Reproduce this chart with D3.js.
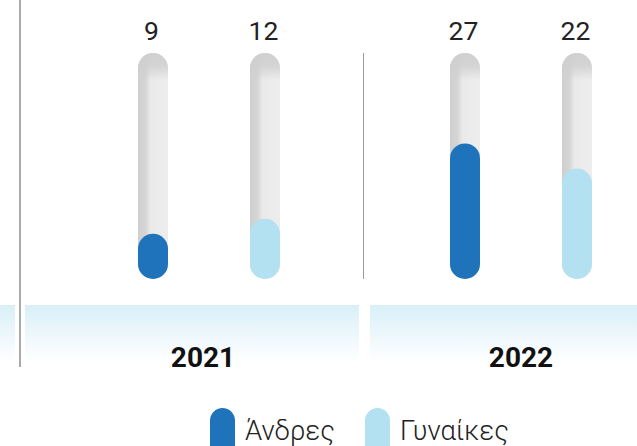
<!DOCTYPE html>
<html><head><meta charset="utf-8">
<script src="https://cdn.jsdelivr.net/npm/d3@7"></script>
<style>
html,body{margin:0;padding:0;background:#fff;}
svg{display:block;font-family:Roboto,"Noto Sans",sans-serif;}
</style></head>
<body><svg id="chart" width="637" height="446"></svg>
<script>
const years = ["2021", "2022"];
const genders = ["Άνδρες", "Γυναίκες"];
const men = [9, 27];
const women = [12, 22];
const maxValue = 45;
const colors = ["#1f73bb", "#b3e1f1"];

const svg = d3.select("#chart");
const W = 637, H = 446;
const defs = svg.append("defs");

// gradients
const tg = defs.append("linearGradient").attr("id","trackH").attr("x1","0").attr("x2","1").attr("y1","0").attr("y2","0");
tg.append("stop").attr("offset","0").attr("stop-color","#cfcfcf");
tg.append("stop").attr("offset","0.25").attr("stop-color","#d5d5d5");
tg.append("stop").attr("offset","0.42").attr("stop-color","#eaeaea");
tg.append("stop").attr("offset","1").attr("stop-color","#ededed");
const tv = defs.append("linearGradient").attr("id","trackV").attr("x1","0").attr("x2","0").attr("y1","0").attr("y2","1");
tv.append("stop").attr("offset","0").attr("stop-color","#cfcfcf").attr("stop-opacity",1);
tv.append("stop").attr("offset","0.06").attr("stop-color","#cfcfcf").attr("stop-opacity",0.8);
tv.append("stop").attr("offset","0.12").attr("stop-color","#cfcfcf").attr("stop-opacity",0);
const bg = defs.append("linearGradient").attr("id","band").attr("x1","0").attr("x2","0").attr("y1","0").attr("y2","1");
bg.append("stop").attr("offset","0").attr("stop-color","#d9eff8");
bg.append("stop").attr("offset","1").attr("stop-color","#ffffff");

const x0 = d3.scaleBand().domain(years).range([53, 677]);
const x1 = d3.scalePoint().domain(genders).range([100, 212]);
const y = d3.scaleLinear().domain([0, maxValue]).range([279, 53]);
const barW = 30;

const data = [];
years.forEach((yr, i) => {
  data.push({year: yr, gender: genders[0], value: men[i], color: colors[0]});
  data.push({year: yr, gender: genders[1], value: women[i], color: colors[1]});
});
const cx = d => x0(d.year) + x1(d.gender);

// bottom bands
const bandTop = 305, bandBottom = 362;
const bands = [[0, 15], [25, 359], [370, W]];
svg.selectAll("rect.band").data(bands).join("rect").attr("class","band")
  .attr("x", d => d[0]).attr("width", d => d[1]-d[0])
  .attr("y", bandTop).attr("height", bandBottom - bandTop)
  .attr("fill","url(#band)");

// left axis line
svg.append("line").attr("x1",20).attr("x2",20).attr("y1",0).attr("y2",367)
  .attr("stroke","#aaaaaa").attr("stroke-width",2);
// separator
svg.append("line").attr("x1",x0("2022")-1.5).attr("x2",x0("2022")-1.5)
  .attr("y1",y(maxValue)).attr("y2",y(0))
  .attr("stroke","#9a9a9a").attr("stroke-width",1);

// tracks
svg.selectAll("rect.track").data(data).join("rect").attr("class","track")
  .attr("x", d => cx(d) - barW/2).attr("width", barW)
  .attr("y", y(maxValue)).attr("height", y(0) - y(maxValue))
  .attr("rx", barW/2).attr("fill","url(#trackH)");
svg.selectAll("rect.trackTop").data(data).join("rect").attr("class","trackTop")
  .attr("x", d => cx(d) - barW/2).attr("width", barW)
  .attr("y", y(maxValue)).attr("height", y(0) - y(maxValue))
  .attr("rx", barW/2).attr("fill","url(#trackV)");

// bars
svg.selectAll("rect.bar").data(data).join("rect").attr("class","bar")
  .attr("x", d => cx(d) - barW/2).attr("width", barW)
  .attr("y", d => y(d.value)).attr("height", d => y(0) - y(d.value))
  .attr("rx", barW/2).attr("fill", d => d.color);

// value labels
svg.selectAll("text.val").data(data).join("text").attr("class","val")
  .attr("x", d => cx(d) - 1.5).attr("y", 39.5)
  .attr("text-anchor","middle").attr("font-size",26.5).attr("font-weight",400)
  .attr("fill","#222").text(d => d.value);

// year labels
svg.selectAll("text.yr").data(years).join("text").attr("class","yr")
  .attr("x", d => x0(d) + x0.bandwidth()/2 - (d === "2021" ? 6 : 0)).attr("y", 366.5)
  .attr("text-anchor","middle").attr("font-size",28).attr("font-weight",700)
  .attr("fill","#111").text(d => d);

// legend
const legendX = [210, 365];
const lg = svg.selectAll("g.leg").data(genders).join("g").attr("class","leg")
  .attr("transform", (d,i) => `translate(${legendX[i]},408)`);
lg.append("rect").attr("width",25).attr("height",60).attr("rx",12.5)
  .attr("fill", (d,i) => colors[i]);
lg.append("text").attr("x",35).attr("y",32).attr("font-size",27.5).attr("font-weight",300)
  .attr("fill","#222").text(d => d);
</script></body></html>
